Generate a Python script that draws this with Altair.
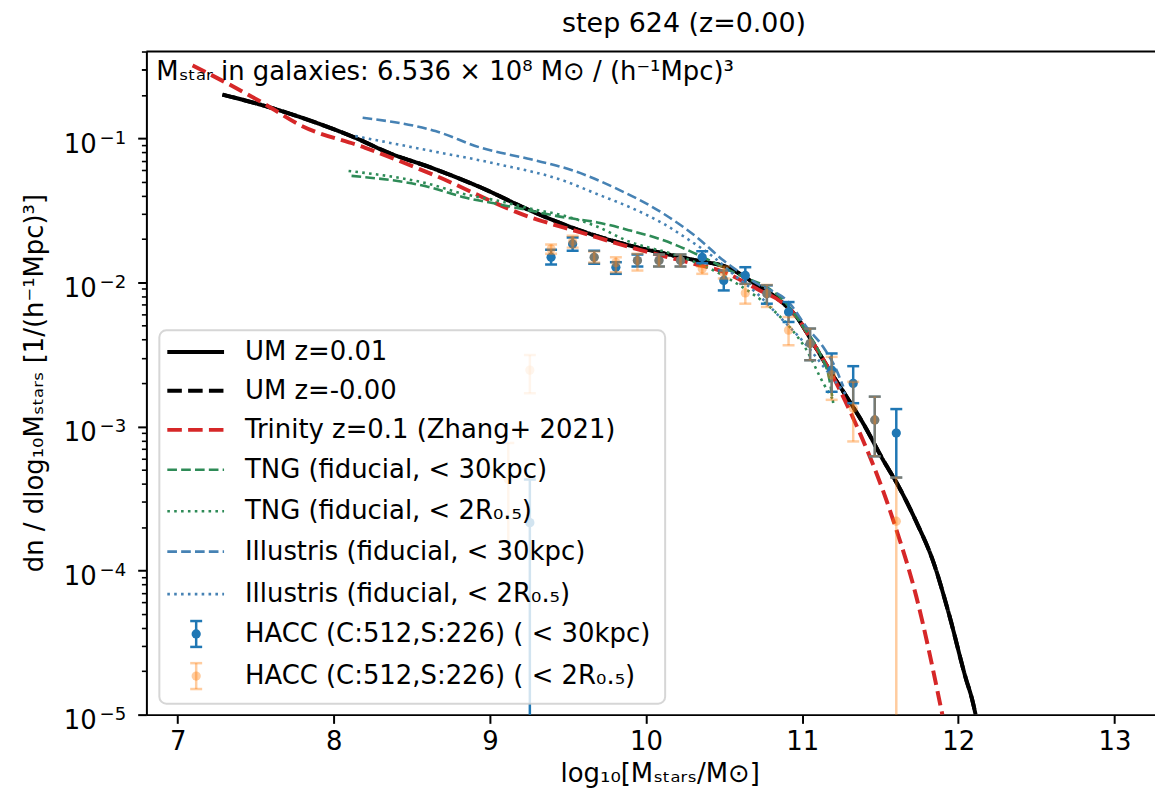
import altair as alt
import pandas as pd

# ---------------- data ----------------
um_x = [7.287, 7.564, 7.859, 8.138, 8.350, 8.624, 8.943, 9.262, 9.581, 9.900, 10.117, 10.327,
        10.519, 10.730, 10.857, 10.965, 11.071, 11.175, 11.284, 11.390, 11.518, 11.62, 11.73,
        11.84, 11.94, 12.049, 12.090, 12.111]
um_y = [0.2009, 0.167, 0.1315, 0.1007, 0.0794, 0.0625, 0.0455, 0.0314, 0.02286, 0.01799, 0.01585,
        0.01416, 0.01274, 0.00927, 0.0075, 0.00575, 0.00377, 0.00246, 0.00161, 0.001054, 0.000587,
        0.00038, 0.000219, 0.000115, 5.0e-5, 1.774e-5, 1.26e-5, 1.0e-5]

tr_x = [7.096, 7.564, 7.776, 8.202, 8.624, 9.262, 9.581, 9.900, 10.306, 10.474, 10.729, 10.86,
        10.97, 11.07, 11.18, 11.303, 11.582, 11.730, 11.898]
tr_y = [0.3206, 0.1714, 0.1247, 0.0859, 0.0566, 0.02825, 0.02223, 0.01750, 0.01346, 0.01208,
        0.00879, 0.00741, 0.00569, 0.0038, 0.0024, 0.0013, 0.000226, 6.67e-5, 1.0e-5]

tng30_x = [8.114, 8.624, 8.839, 9.053, 9.262, 9.477, 9.689, 9.900, 10.117, 10.20, 10.41, 10.625,
           10.773, 10.88, 11.008, 11.112, 11.175, 11.199]
tng30_y = [0.0548, 0.0455, 0.0388, 0.0349, 0.0314, 0.02825, 0.02606, 0.02286, 0.0195, 0.01799,
           0.01416, 0.01086, 0.00927, 0.0075, 0.0049, 0.00323, 0.0021, 0.001455]

tng2r_x = [8.095, 8.624, 8.839, 9.053, 9.262, 9.477, 9.689, 9.876, 10.20, 10.434, 10.60, 10.816,
           10.92, 11.029, 11.135, 11.199]
tng2r_y = [0.0593, 0.0478, 0.0409, 0.0368, 0.03243, 0.02897, 0.02432, 0.0195, 0.01535, 0.01208,
           0.00953, 0.0064, 0.0049, 0.00338, 0.0020, 0.001528]

ill30_x = [8.185, 8.651, 8.943, 9.262, 9.541, 9.796, 10.115, 10.327, 10.497, 10.71, 10.92, 11.028,
           11.135, 11.22, 11.263]
ill30_y = [0.1387, 0.1122, 0.0859, 0.0714, 0.0593, 0.0455, 0.0298, 0.0205, 0.01416, 0.00982,
           0.00715, 0.0049, 0.00356, 0.00246, 0.00189]

ill2r_x = [8.138, 8.624, 9.052, 9.477, 9.689, 9.900, 10.115, 10.263, 10.434, 10.582, 10.71, 10.857,
           11.028, 11.155, 11.283]
ill2r_y = [0.1035, 0.0817, 0.0661, 0.0506, 0.0409, 0.0331, 0.0254, 0.0201, 0.01493, 0.01086,
           0.00838, 0.00575, 0.00366, 0.00246, 0.00165]

hb_x = [9.256, 9.392, 9.530, 9.668, 9.807, 9.945, 10.083, 10.221, 10.360, 10.498, 10.636, 10.774,
        10.913, 11.051, 11.189, 11.327, 11.465, 11.603]
hb_y = [0.000215, 0.01493, 0.01849, 0.01493, 0.01274, 0.01416, 0.01416, 0.01416, 0.01493, 0.01031,
        0.01117, 0.00834, 0.00622, 0.00377, 0.00246, 0.00199, 0.00111, 0.000899]
hb_lo = [1e-8, 0.0133, 0.0166, 0.01346, 0.01146, 0.01288, 0.01288, 0.01288, 0.01359, 0.00879,
         0.00977, 0.00711, 0.00531, 0.00288, 0.00174, 0.00145, 0.00062, 0.000442]
hb_hi = [0.000428, 0.01687, 0.02051, 0.0166, 0.0138, 0.0156, 0.0156, 0.0156, 0.01644, 0.01208,
         0.01274, 0.00953, 0.0073, 0.00478, 0.00321, 0.00262, 0.00161, 0.00132]

ho_x = [9.118, 9.256, 9.392, 9.530, 9.668, 9.807, 9.945, 10.083, 10.221, 10.360, 10.498, 10.636,
        10.774, 10.913, 11.051, 11.189, 11.327, 11.465, 11.603]
ho_y = [0.000428, 0.00246, 0.01706, 0.0192, 0.01493, 0.01371, 0.01416, 0.01416, 0.01416, 0.01242,
        0.01169, 0.00845, 0.00834, 0.00466, 0.00377, 0.00228, 0.00134, 0.00111, 0.00022]
ho_lo = [0.000126, 0.0017, 0.01578, 0.01742, 0.01371, 0.01175, 0.01208, 0.01288, 0.01288, 0.01146,
         0.01064, 0.00711, 0.00675, 0.00366, 0.00288, 0.00153, 0.000787, 0.00062, 1e-8]
ho_hi = [0.000768, 0.00313, 0.01828, 0.02109, 0.01637, 0.01493, 0.01578, 0.0156, 0.0156, 0.01288,
         0.01288, 0.00977, 0.0096, 0.00575, 0.00478, 0.00304, 0.00204, 0.00161, 0.000442]

series = ["UM z=0.01", "UM z=-0.00", "Trinity z=0.1 (Zhang+ 2021)",
          "TNG (fiducial,  < 30kpc)", "TNG (fiducial,  < 2R₀.₅)",
          "Illustris (fiducial,  < 30kpc)", "Illustris (fiducial,  < 2R₀.₅)",
          "HACC (C:512,S:226) ( < 30kpc)", "HACC (C:512,S:226) ( < 2R₀.₅)"]
colors = ["#000000", "#000000", "#d62728", "#2e8b57", "#2e8b57", "#4682b4", "#4682b4",
          "#1f77b4", "#ff7f0e"]
dashes = [[1, 0], [14.6, 6.3], [14.6, 6.3], [9.7, 4.2], [2.6, 4.3], [9.7, 4.2], [2.6, 4.3],
          [1, 0], [1, 0]]

x_ticks = [7, 8, 9, 10, 11, 12, 13]
y_ticks = [k * 10.0 ** e for e in range(-5, 0) for k in range(1, 10)] + [0.2, 0.3]
y_dec = [1e-5, 1e-4, 1e-3, 1e-2, 1e-1]
y_exp = ["−5", "−4", "−3", "−2", "−1"]

# ---------------- layout ----------------
W, H = 1013, 666
FONT = "DejaVu Sans"
FS = 26

xsc = alt.Scale(domain=[6.8, 13.26], nice=False, zero=False)
ysc = alt.Scale(type="log", domain=[1e-5, 0.4], nice=False)

major = "abs(log(datum.value)/LN10 - round(log(datum.value)/LN10)) < 1e-6"
xaxis = alt.Axis(values=x_ticks, format="d", title=None, grid=False, labelFontSize=FS,
                 labelFont=FONT, labelColor="black", tickColor="black", tickSize=8.75,
                 tickWidth=2, domainColor="black", domainWidth=2, labelPadding=5,
                 labelFlush=False)
yaxis = alt.Axis(values=y_ticks, title=None, grid=False, labels=False,
                 tickColor="black", domainColor="black", domainWidth=2,
                 tickSize={"condition": {"test": major, "value": 8.75}, "value": 5},
                 tickWidth={"condition": {"test": major, "value": 2}, "value": 1.6})

color_enc = alt.Color("series:N", scale=alt.Scale(domain=series, range=colors), legend=None)
dash_enc = alt.StrokeDash("series:N", scale=alt.Scale(domain=series, range=dashes), legend=None)


def line_df(name, xs, ys):
    return pd.DataFrame({"series": name, "x": xs, "y": ys, "i": list(range(len(xs)))})


def line_layer(name, xs, ys, width):
    return alt.Chart(line_df(name, xs, ys)).mark_line(strokeWidth=width, clip=True,
                                                     interpolate="monotone").encode(
        x=alt.X("x:Q", scale=xsc, axis=xaxis),
        y=alt.Y("y:Q", scale=ysc, axis=yaxis),
        order="i:Q", color=color_enc, strokeDash=dash_enc)


def hacc_layers(name, xs, ys, lo, hi, opacity):
    df = pd.DataFrame({"series": name, "x": xs, "y": ys, "lo": lo, "hi": hi})
    base = alt.Chart(df)
    X = alt.X("x:Q", scale=xsc, axis=xaxis)
    bars = base.mark_rule(strokeWidth=2.5, opacity=opacity, clip=True).encode(
        x=X, y=alt.Y("lo:Q", scale=ysc, axis=yaxis), y2="hi:Q", color=color_enc)
    cap_lo = base.mark_tick(orient="horizontal", size=12, thickness=2.5, opacity=opacity,
                            clip=True).encode(x=X, y=alt.Y("lo:Q", scale=ysc, axis=yaxis),
                                              color=color_enc)
    cap_hi = base.mark_tick(orient="horizontal", size=12, thickness=2.5, opacity=opacity,
                            clip=True).encode(x=X, y=alt.Y("hi:Q", scale=ysc, axis=yaxis),
                                              color=color_enc)
    pts = base.mark_point(shape="circle", filled=True, size=86, opacity=opacity,
                          clip=True).encode(x=X, y=alt.Y("y:Q", scale=ysc, axis=yaxis),
                                            color=color_enc)
    return [bars, cap_lo, cap_hi, pts]


# y tick labels in the "10^-n" style, placed through the y scale
ylab_df = pd.DataFrame({"v": y_dec, "base": ["10"] * 5, "e": y_exp})
ytl_base = alt.Chart(ylab_df).mark_text(align="right", baseline="alphabetic", fontSize=FS,
                                        font=FONT, color="black", dy=14.5).encode(
    x=alt.value(-50), y=alt.Y("v:Q", scale=ysc, axis=yaxis), text="base:N")
ytl_exp = alt.Chart(ylab_df).mark_text(align="left", baseline="alphabetic", fontSize=18.2,
                                       font=FONT, color="black", dy=5.5).encode(
    x=alt.value(-47), y=alt.Y("v:Q", scale=ysc, axis=yaxis), text="e:N")

data_layers = [
    line_layer(series[0], um_x, um_y, 4),
    line_layer(series[1], um_x, um_y, 4),
    line_layer(series[2], tr_x, tr_y, 4),
    line_layer(series[3], tng30_x, tng30_y, 2.6),
    line_layer(series[4], tng2r_x, tng2r_y, 2.6),
    line_layer(series[5], ill30_x, ill30_y, 2.6),
    line_layer(series[6], ill2r_x, ill2r_y, 2.6),
] + hacc_layers(series[7], hb_x, hb_y, hb_lo, hb_hi, 1.0) \
  + hacc_layers(series[8], ho_x, ho_y, ho_lo, ho_hi, 0.4) + [ytl_base, ytl_exp]

data_chart = alt.layer(*data_layers)

# ---------------- legend (drawn like matplotlib's) ----------------
leg_y = [301.7, 340.7, 380, 420, 461.7, 502.3, 545, 585, 627.3]
leg = pd.DataFrame({"series": series, "ly": leg_y,
                    "lo": [v + 13 for v in leg_y], "hi": [v - 13 for v in leg_y]})
lys = alt.Scale(domain=[0, H], range=[0, H])
one = pd.DataFrame({"a": [0]})

leg_box = alt.Chart(one).mark_rect(fill="white", fillOpacity=0.8, stroke="#cccccc",
                                   strokeOpacity=0.8, strokeWidth=2, cornerRadius=7).encode(
    x=alt.value(13), x2=alt.value(521), y=alt.value(280), y2=alt.value(655))
leg_thick = alt.Chart(leg.iloc[0:3]).mark_rule(strokeWidth=4).encode(
    x=alt.value(21), x2=alt.value(78), y=alt.Y("ly:Q", scale=lys, axis=None),
    color=color_enc, strokeDash=dash_enc)
leg_thin = alt.Chart(leg.iloc[3:7]).mark_rule(strokeWidth=2.6).encode(
    x=alt.value(21), x2=alt.value(78), y=alt.Y("ly:Q", scale=lys, axis=None),
    color=color_enc, strokeDash=dash_enc)
hleg = leg.iloc[7:9].assign(op=[1.0, 0.4])
leg_bar = alt.Chart(hleg).mark_rule(strokeWidth=2.5).encode(
    x=alt.value(50), y=alt.Y("lo:Q", scale=lys, axis=None), y2="hi:Q", color=color_enc,
    opacity=alt.Opacity("op:Q", scale=None))
leg_c1 = alt.Chart(hleg).mark_tick(orient="horizontal", size=12, thickness=2.5).encode(
    x=alt.value(50), y=alt.Y("lo:Q", scale=lys, axis=None), color=color_enc,
    opacity=alt.Opacity("op:Q", scale=None))
leg_c2 = alt.Chart(hleg).mark_tick(orient="horizontal", size=12, thickness=2.5).encode(
    x=alt.value(50), y=alt.Y("hi:Q", scale=lys, axis=None), color=color_enc,
    opacity=alt.Opacity("op:Q", scale=None))
leg_pt = alt.Chart(hleg).mark_point(shape="circle", filled=True, size=86).encode(
    x=alt.value(50), y=alt.Y("ly:Q", scale=lys, axis=None), color=color_enc,
    opacity=alt.Opacity("op:Q", scale=None))
leg_txt = alt.Chart(leg).mark_text(align="left", baseline="middle", fontSize=FS, font=FONT,
                                   color="black").encode(
    x=alt.value(99), y=alt.Y("ly:Q", scale=lys, axis=None), text="series:N")

legend_chart = alt.layer(leg_box, leg_thick, leg_thin, leg_bar, leg_c1, leg_c2, leg_pt, leg_txt)


# ---------------- texts ----------------
def label(txt, x, y, size=FS, angle=0, align="center", baseline="middle"):
    kw = dict(fontSize=size, font=FONT, color="black", align=align, baseline=baseline)
    if angle:
        kw["angle"] = angle
    return alt.Chart(pd.DataFrame({"t": [txt]})).mark_text(**kw).encode(
        x=alt.value(x), y=alt.value(y), text="t:N")


title = label("step 624 (z=0.00)", 540, -28, size=27)
annot = label("Mₛₜₐᵣ in galaxies: 6.536 × 10⁸ M⊙ / (h⁻¹Mpc)³", 10, 29, align="left",
              baseline="alphabetic")
xlab = label("log₁₀[Mₛₜₐᵣₛ/M⊙]", 516, 726)
ylab = label("dn / dlog₁₀Mₛₜₐᵣₛ [1/(h⁻¹Mpc)³]", -112, 333, angle=270)
top_spine = alt.Chart(one).mark_rule(color="black", strokeWidth=2).encode(
    x=alt.value(0), x2=alt.value(W), y=alt.value(0))

chart = alt.layer(data_chart, legend_chart, top_spine, title, annot, xlab, ylab).resolve_scale(
    x="independent", y="independent"
).properties(
    width=W, height=H,
    padding={"left": 139, "top": 42, "right": 0, "bottom": 75},
    autosize=alt.AutoSizeParams(type="none"),
).configure(font=FONT).configure_view(stroke=None)

chart.save("out.html", embed_options={"renderer": "svg", "actions": False})
